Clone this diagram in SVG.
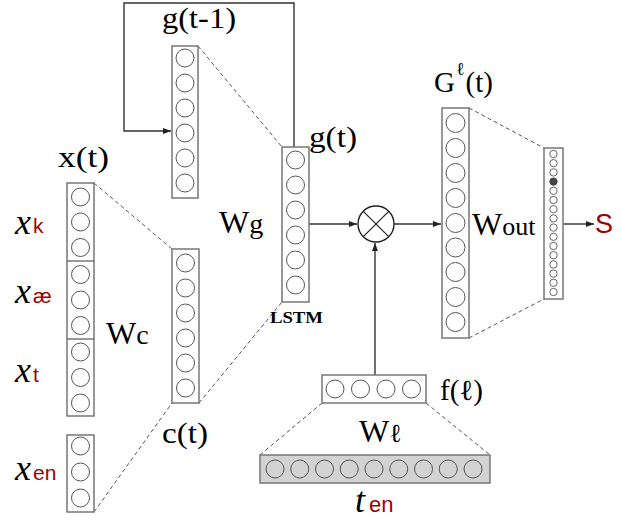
<svg xmlns="http://www.w3.org/2000/svg" width="621" height="521" viewBox="0 0 621 521">
<style>
.box{fill:#fff;stroke:#777;stroke-width:1.5}
.n{fill:#fff;stroke:#555;stroke-width:1}
.sn{fill:#fff;stroke:#555;stroke-width:0.9}
.gray{fill:#d3d3d3}
.dash{stroke:#555;stroke-width:1;stroke-dasharray:4,3;fill:none}
.con{stroke:#333;stroke-width:1.4;fill:none}
.lbl{font-family:'Liberation Serif','DejaVu Serif',serif;fill:#000}
.it{font-family:'Liberation Serif','DejaVu Serif',serif;font-style:italic;fill:#000}
.red{font-family:'Liberation Sans','DejaVu Sans',sans-serif;fill:#a00000}
</style>
<defs>
<marker id="ah" markerWidth="8" markerHeight="6" refX="8" refY="3" orient="auto" markerUnits="userSpaceOnUse">
<path d="M0,0 L8,3 L0,6 z" fill="#222"/>
</marker>
</defs>

<g id="connectors">
<polyline class="con" points="294,147 294,3 124,3 124,131 171,131" marker-end="url(#ah)"/>
<line class="con" x1="309" y1="224" x2="357" y2="224" marker-end="url(#ah)"/>
<line class="con" x1="394" y1="224" x2="441" y2="224" marker-end="url(#ah)"/>
<line class="con" x1="375" y1="375" x2="375" y2="243" marker-end="url(#ah)"/>
<line class="con" x1="563" y1="224" x2="594" y2="224" marker-end="url(#ah)"/>
<line class="dash" x1="94" y1="183" x2="172" y2="249"/>
<line class="dash" x1="94" y1="512" x2="172" y2="403"/>
<line class="dash" x1="198" y1="46" x2="282" y2="147"/>
<line class="dash" x1="199" y1="403" x2="282" y2="302"/>
<line class="dash" x1="469" y1="108" x2="544" y2="148"/>
<line class="dash" x1="469" y1="338" x2="544" y2="299"/>
<line class="dash" x1="322" y1="403" x2="260" y2="455"/>
<line class="dash" x1="426" y1="403" x2="490" y2="455"/>
</g>

<g id="x_t">
<rect class="box" x="67" y="183" width="27" height="233"/>
<line x1="67" y1="261" x2="94" y2="261" stroke="#777" stroke-width="1.5"/>
<line x1="67" y1="339" x2="94" y2="339" stroke="#777" stroke-width="1.5"/>
<circle class="n" cx="80.5" cy="197" r="9"/>
<circle class="n" cx="80.5" cy="222" r="9"/>
<circle class="n" cx="80.5" cy="247.5" r="9"/>
<circle class="n" cx="80.5" cy="274.5" r="9"/>
<circle class="n" cx="80.5" cy="300" r="9"/>
<circle class="n" cx="80.5" cy="325.5" r="9"/>
<circle class="n" cx="80.5" cy="352" r="9"/>
<circle class="n" cx="80.5" cy="377.5" r="9"/>
<circle class="n" cx="80.5" cy="403" r="9"/>
<text class="lbl" x="58" y="167" font-size="29" textLength="51" lengthAdjust="spacingAndGlyphs">x(t)</text>
<text class="it" x="15" y="234" font-size="36">x</text><text class="red" x="33" y="233" font-size="21">k</text>
<text class="it" x="15" y="303" font-size="36">x</text><text class="red" x="33" y="303" font-size="21">æ</text>
<text class="it" x="15" y="382" font-size="36">x</text><text class="red" x="33" y="382" font-size="21">t</text>
</g>

<g id="x_en">
<rect class="box" x="67" y="435" width="27" height="77"/>
<circle class="n" cx="80.5" cy="446" r="9"/>
<circle class="n" cx="80.5" cy="472" r="9"/>
<circle class="n" cx="80.5" cy="498" r="9"/>
<text class="it" x="15" y="480" font-size="36">x</text><text class="red" x="33" y="480" font-size="21">en</text>
</g>

<g id="c_t">
<rect class="box" x="172" y="249" width="27" height="154"/>
<circle class="n" cx="185.5" cy="263" r="9"/>
<circle class="n" cx="185.5" cy="288" r="9"/>
<circle class="n" cx="185.5" cy="313" r="9"/>
<circle class="n" cx="185.5" cy="338" r="9"/>
<circle class="n" cx="185.5" cy="363" r="9"/>
<circle class="n" cx="185.5" cy="388" r="9"/>
<text class="lbl" x="162" y="443" font-size="29" textLength="46" lengthAdjust="spacingAndGlyphs">c(t)</text>
<text class="lbl" x="106" y="344" font-size="32">W<tspan font-size="28">c</tspan></text>
</g>

<g id="g_tm1">
<rect class="box" x="172" y="46" width="26" height="152"/>
<circle class="n" cx="185" cy="58" r="9"/>
<circle class="n" cx="185" cy="83" r="9"/>
<circle class="n" cx="185" cy="108" r="9"/>
<circle class="n" cx="185" cy="133" r="9"/>
<circle class="n" cx="185" cy="158" r="9"/>
<circle class="n" cx="185" cy="183" r="9"/>
<text class="lbl" x="162" y="28" font-size="29" textLength="74" lengthAdjust="spacingAndGlyphs">g(t-1)</text>
</g>

<g id="g_t">
<rect class="box" x="282" y="147" width="27" height="155"/>
<circle class="n" cx="295.5" cy="160" r="9"/>
<circle class="n" cx="295.5" cy="185" r="9"/>
<circle class="n" cx="295.5" cy="210" r="9"/>
<circle class="n" cx="295.5" cy="235" r="9"/>
<circle class="n" cx="295.5" cy="260" r="9"/>
<circle class="n" cx="295.5" cy="285" r="9"/>
<text class="lbl" x="309" y="147" font-size="29" textLength="48" lengthAdjust="spacingAndGlyphs">g(t)</text>
<text class="lbl" x="219" y="233" font-size="32">W<tspan font-size="28">g</tspan></text>
<text class="lbl" x="270" y="323" font-size="17" font-weight="bold" textLength="53" lengthAdjust="spacingAndGlyphs">LSTM</text>
</g>

<g id="mult">
<circle cx="376" cy="224" r="18" fill="#fff" stroke="#222" stroke-width="1.4"/>
<line x1="363.3" y1="211.3" x2="388.7" y2="236.7" stroke="#222" stroke-width="1.2"/>
<line x1="388.7" y1="211.3" x2="363.3" y2="236.7" stroke="#222" stroke-width="1.2"/>
</g>

<g id="G_t">
<rect class="box" x="442" y="108" width="27" height="230"/>
<circle class="n" cx="455.5" cy="123" r="9.5"/>
<circle class="n" cx="455.5" cy="148" r="9.5"/>
<circle class="n" cx="455.5" cy="173" r="9.5"/>
<circle class="n" cx="455.5" cy="198" r="9.5"/>
<circle class="n" cx="455.5" cy="223" r="9.5"/>
<circle class="n" cx="455.5" cy="247.5" r="9.5"/>
<circle class="n" cx="455.5" cy="272" r="9.5"/>
<circle class="n" cx="455.5" cy="297" r="9.5"/>
<circle class="n" cx="455.5" cy="322" r="9.5"/>
<text class="lbl" x="434" y="92" font-size="29">G<tspan dx="1" y="75" font-size="18">ℓ</tspan><tspan dx="1" y="92">(t)</tspan></text>
<text class="lbl" x="472" y="235" font-size="32">W<tspan font-size="26">out</tspan></text>
</g>

<g id="out">
<rect class="box" x="544" y="148" width="19" height="151"/>
<circle class="sn" cx="553.5" cy="154" r="3.7"/>
<circle class="sn" cx="553.5" cy="163.2" r="3.7"/>
<circle class="sn" cx="553.5" cy="172.4" r="3.7"/>
<circle cx="553.5" cy="181.6" r="3.7" fill="#444" stroke="#444" stroke-width="0.9"/>
<circle class="sn" cx="553.5" cy="190.8" r="3.7"/>
<circle class="sn" cx="553.5" cy="200" r="3.7"/>
<circle class="sn" cx="553.5" cy="209.2" r="3.7"/>
<circle class="sn" cx="553.5" cy="218.4" r="3.7"/>
<circle class="sn" cx="553.5" cy="227.6" r="3.7"/>
<circle class="sn" cx="553.5" cy="236.8" r="3.7"/>
<circle class="sn" cx="553.5" cy="246" r="3.7"/>
<circle class="sn" cx="553.5" cy="255.2" r="3.7"/>
<circle class="sn" cx="553.5" cy="264.4" r="3.7"/>
<circle class="sn" cx="553.5" cy="273.6" r="3.7"/>
<circle class="sn" cx="553.5" cy="282.8" r="3.7"/>
<circle class="sn" cx="553.5" cy="292" r="3.7"/>
<text class="red" x="595" y="233" font-size="27">S</text>
</g>

<g id="f_l">
<rect class="box" x="322" y="375" width="104" height="28"/>
<circle class="n" cx="335" cy="389" r="9"/>
<circle class="n" cx="360.5" cy="389" r="9"/>
<circle class="n" cx="386" cy="389" r="9"/>
<circle class="n" cx="411.5" cy="389" r="9"/>
<text class="lbl" x="440" y="400" font-size="29" textLength="43" lengthAdjust="spacingAndGlyphs">f(ℓ)</text>
<text class="lbl" x="359" y="442" font-size="32">W<tspan font-size="26">ℓ</tspan></text>
</g>

<g id="t_en">
<rect class="box gray" x="260" y="455" width="230" height="28"/>
<circle class="n gray" cx="275" cy="469" r="9"/>
<circle class="n gray" cx="299.75" cy="469" r="9"/>
<circle class="n gray" cx="324.5" cy="469" r="9"/>
<circle class="n gray" cx="349.25" cy="469" r="9"/>
<circle class="n gray" cx="374" cy="469" r="9"/>
<circle class="n gray" cx="398.75" cy="469" r="9"/>
<circle class="n gray" cx="423.5" cy="469" r="9"/>
<circle class="n gray" cx="448.25" cy="469" r="9"/>
<circle class="n gray" cx="473" cy="469" r="9"/>
<text class="it" x="355" y="512" font-size="36">t</text><text class="red" x="369" y="512" font-size="22">en</text>
</g>
</svg>
